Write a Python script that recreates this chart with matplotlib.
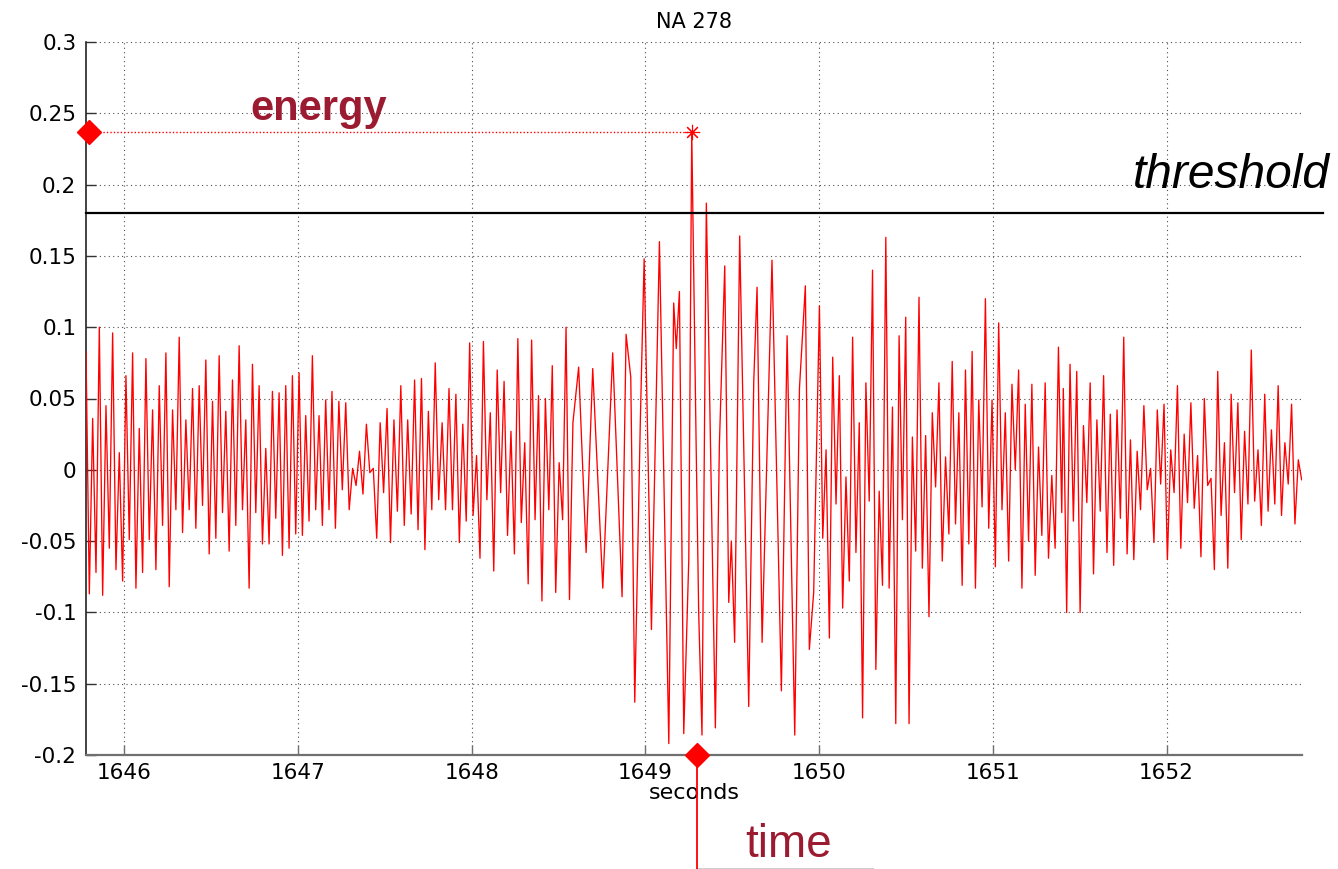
import numpy as np
import matplotlib
matplotlib.use("Agg")
import matplotlib.pyplot as plt

# ---------------- data ----------------
title = "NA 278"
x_label = "seconds"
x_ticks = [1646, 1647, 1648, 1649, 1650, 1651, 1652]
y_ticks = [-0.2, -0.15, -0.1, -0.05, 0, 0.05, 0.1, 0.15, 0.2, 0.25, 0.3]
y_tick_labels = ["-0.2", "-0.15", "-0.1", "-0.05", "0", "0.05", "0.1",
                 "0.15", "0.2", "0.25", "0.3"]
x_range = (1645.78, 1652.78)
y_range = (-0.2, 0.3)

threshold = 0.18
threshold_end = 1652.90
event_time = 1649.30
energy_marker_time = 1645.80

# signal, read segment by segment (alternating extrema)
seg1_span = (1645.78, 1647.179)
seg1_values = [0.083, -0.087, 0.036, -0.072, 0.100, -0.088, 0.045, -0.055, 0.096, -0.070,
               0.012, -0.078, 0.066, -0.049, 0.082, -0.083, 0.029, -0.072, 0.078, -0.049,
               0.042, -0.070, 0.059, -0.039, 0.082, -0.082, 0.042, -0.028, 0.093, -0.044,
               0.035, -0.028, 0.057, -0.041, 0.059, -0.025, 0.077, -0.059, 0.048, -0.048,
               0.080, -0.030, 0.041, -0.057, 0.063, -0.039, 0.087, -0.028, 0.035, -0.083,
               0.074, -0.030, 0.059, -0.052, 0.015, -0.052, 0.055, -0.034, 0.054, -0.060,
               0.059, -0.055, 0.066, -0.045, 0.068, -0.046, 0.038, -0.036, 0.080, -0.028,
               0.038, -0.039, 0.049, -0.028]

seg2_span = (1647.196, 1648.583)
seg2_values = [0.055, -0.041, 0.048, -0.014, 0.047, -0.028, 0.001, -0.011, 0.013, -0.017,
               0.032, -0.002, 0.001, -0.048, 0.033, -0.016, 0.043, -0.051, 0.035, -0.029,
               0.059, -0.039, 0.035, -0.031, 0.063, -0.042, 0.064, -0.056, 0.041, -0.028,
               0.075, -0.021, 0.033, -0.028, 0.057, -0.028, 0.053, -0.051, 0.032, -0.036,
               0.089, -0.032, 0.010, -0.062, 0.090, -0.021, 0.040, -0.071, 0.070, -0.016,
               0.062, -0.046, 0.027, -0.059, 0.092, -0.037, 0.019, -0.080, 0.091, -0.035,
               0.052, -0.092, 0.050, -0.028, 0.073, -0.086, 0.005, -0.035, 0.100, -0.091,
               0.033]

seg3_times = [1648.616, 1648.659, 1648.697, 1648.755, 1648.812, 1648.866, 1648.889, 1648.916,
              1648.939, 1648.971, 1648.993, 1649.035, 1649.081, 1649.135, 1649.163, 1649.178,
              1649.196, 1649.221, 1649.250, 1649.267, 1649.292, 1649.307, 1649.326, 1649.351,
              1649.403, 1649.426, 1649.457, 1649.480, 1649.495, 1649.514, 1649.543, 1649.595,
              1649.624, 1649.643, 1649.672, 1649.729, 1649.783, 1649.816, 1649.860, 1649.887,
              1649.921, 1649.944, 1649.969, 1649.988]
seg3_values = [0.072, -0.058, 0.071, -0.083, 0.082, -0.089, 0.095, 0.065,
               -0.163, 0.034, 0.148, -0.112, 0.160, -0.192, 0.117, 0.085,
               0.125, -0.185, -0.063, 0.237, 0.020, -0.100, -0.186, 0.187,
               -0.181, 0.017, 0.143, -0.093, -0.050, -0.121, 0.164, -0.166,
               0.062, 0.128, -0.121, 0.147, -0.155, 0.094, -0.186, 0.057,
               0.129, -0.126, -0.086, 0.030]

seg4_span = (1650.002, 1651.397)
seg4_values = [0.115, -0.048, 0.014, -0.118, 0.079, -0.024, 0.066, -0.097, -0.005, -0.078,
               0.093, -0.058, 0.033, -0.174, 0.061, -0.022, 0.140, -0.140, -0.015, -0.081,
               0.163, -0.083, 0.044, -0.178, 0.094, -0.035, 0.107, -0.178, 0.023, -0.057,
               0.121, -0.069, 0.024, -0.103, 0.040, -0.012, 0.061, -0.064, 0.009, -0.045,
               0.076, -0.038, 0.040, -0.081, 0.070, -0.052, 0.083, -0.083, 0.049, -0.026,
               0.120, -0.041, 0.049, -0.068, 0.103, -0.028, 0.040, -0.064, 0.060, 0.000,
               0.070, -0.083, 0.046, -0.050, 0.060, -0.074, 0.016, -0.046, 0.061, -0.062,
               -0.004, -0.055, 0.086, -0.030]

seg5_span = (1651.406, 1652.778)
seg5_values = [0.057, -0.100, 0.074, -0.036, 0.069, -0.100, 0.031, -0.023, 0.061, -0.073,
               0.035, -0.029, 0.066, -0.058, 0.039, -0.067, 0.042, -0.034, 0.093, -0.059,
               0.021, -0.063, 0.013, -0.028, 0.045, -0.014, 0.001, -0.051, 0.042, -0.010,
               0.046, -0.063, 0.014, -0.016, 0.059, -0.055, 0.025, -0.023, 0.047, -0.027,
               0.010, -0.061, 0.050, -0.011, -0.006, -0.070, 0.069, -0.032, 0.019, -0.069,
               0.053, -0.016, 0.047, -0.049, 0.027, -0.024, 0.084, -0.022, 0.014, -0.039,
               0.053, -0.029, 0.028, -0.024, 0.059, -0.032, 0.019, -0.010, 0.046, -0.038,
               0.007, -0.007]

# ---------------- build series ----------------
t = np.concatenate([
    np.linspace(*seg1_span, len(seg1_values)),
    np.linspace(*seg2_span, len(seg2_values)),
    np.array(seg3_times),
    np.linspace(*seg4_span, len(seg4_values)),
    np.linspace(*seg5_span, len(seg5_values)),
])
v = np.concatenate([seg1_values, seg2_values, seg3_values, seg4_values, seg5_values])

peak_i = int(np.argmax(v))
peak_t, peak_v = t[peak_i], v[peak_i]

# ---------------- styling ----------------
W, H = 1338, 869
fig = plt.figure(figsize=(W / 100, H / 100), dpi=100)
ax = fig.add_axes([86 / W, 1 - 755 / H, (1302 - 86) / W, (755 - 42) / H])

dark_red = "#9B1B30"
tick_font = "DejaVu Sans"

ax.plot(t, v, color="red", lw=0.95, zorder=3)

# threshold
ax.plot([x_range[0], threshold_end], [threshold, threshold], color="black",
        lw=1.6, clip_on=False, zorder=4)
ax.text(1651.808, 0.1976, "threshold", fontsize=34.5, style="italic",
        family="Liberation Sans", va="baseline", ha="left", clip_on=False)

# energy
ax.plot([energy_marker_time, peak_t], [peak_v, peak_v], color="red", ls=(0, (1, 1.5)),
        lw=1.0, zorder=4)
ax.plot([energy_marker_time], [peak_v], marker="D", ms=12.5, color="red",
        clip_on=False, zorder=6)
ax.plot([peak_t], [peak_v], marker=(8, 2, 0), ms=11, mec="red", mew=0.8,
        ls="none", zorder=6)
ax.text(1646.724, 0.2453, "energy", fontsize=30, fontweight="bold",
        family="Liberation Sans", color=dark_red, va="baseline", ha="left")

# time marker
ax.plot([event_time, event_time], [y_range[0], -0.283], color="red", lw=1.3,
        clip_on=False, zorder=5)
ax.plot([event_time, 1650.311], [-0.2796, -0.2796], color="black", lw=1.0,
        clip_on=False, zorder=5)
ax.plot([event_time], [y_range[0]], marker="D", ms=12.5, color="red",
        clip_on=False, zorder=7)
ax.text(1649.574, -0.2788, "time", fontsize=33, family="Liberation Sans",
        color=dark_red, va="bottom", ha="left", clip_on=False)

# axes
ax.set_xlim(*x_range)
ax.set_ylim(*y_range)
ax.set_xticks(x_ticks)
ax.set_xticklabels([str(x) for x in x_ticks], family=tick_font, fontsize=15.5)
ax.set_yticks(y_ticks)
ax.set_yticklabels(y_tick_labels, family=tick_font, fontsize=15.5)
ax.tick_params(axis="both", direction="in", length=7, width=1)
ax.tick_params(axis="x", pad=6, colors="#707070", labelcolor="black")
ax.tick_params(axis="y", pad=7, colors="#333333", labelcolor="black")

ax.spines["top"].set_visible(False)
ax.spines["right"].set_visible(False)
ax.spines["left"].set_color("#222222")
ax.spines["left"].set_linewidth(1.2)
ax.spines["bottom"].set_color("#707070")
ax.spines["bottom"].set_linewidth(1.6)

ax.grid(True, color="0.3", linestyle=(0, (1, 3)), linewidth=0.8)
ax.set_axisbelow(True)

ax.set_title(title, family=tick_font, fontsize=15, pad=10)
ax.set_xlabel(x_label, family=tick_font, fontsize=16, labelpad=0)

fig.savefig("out.png", dpi=100)
